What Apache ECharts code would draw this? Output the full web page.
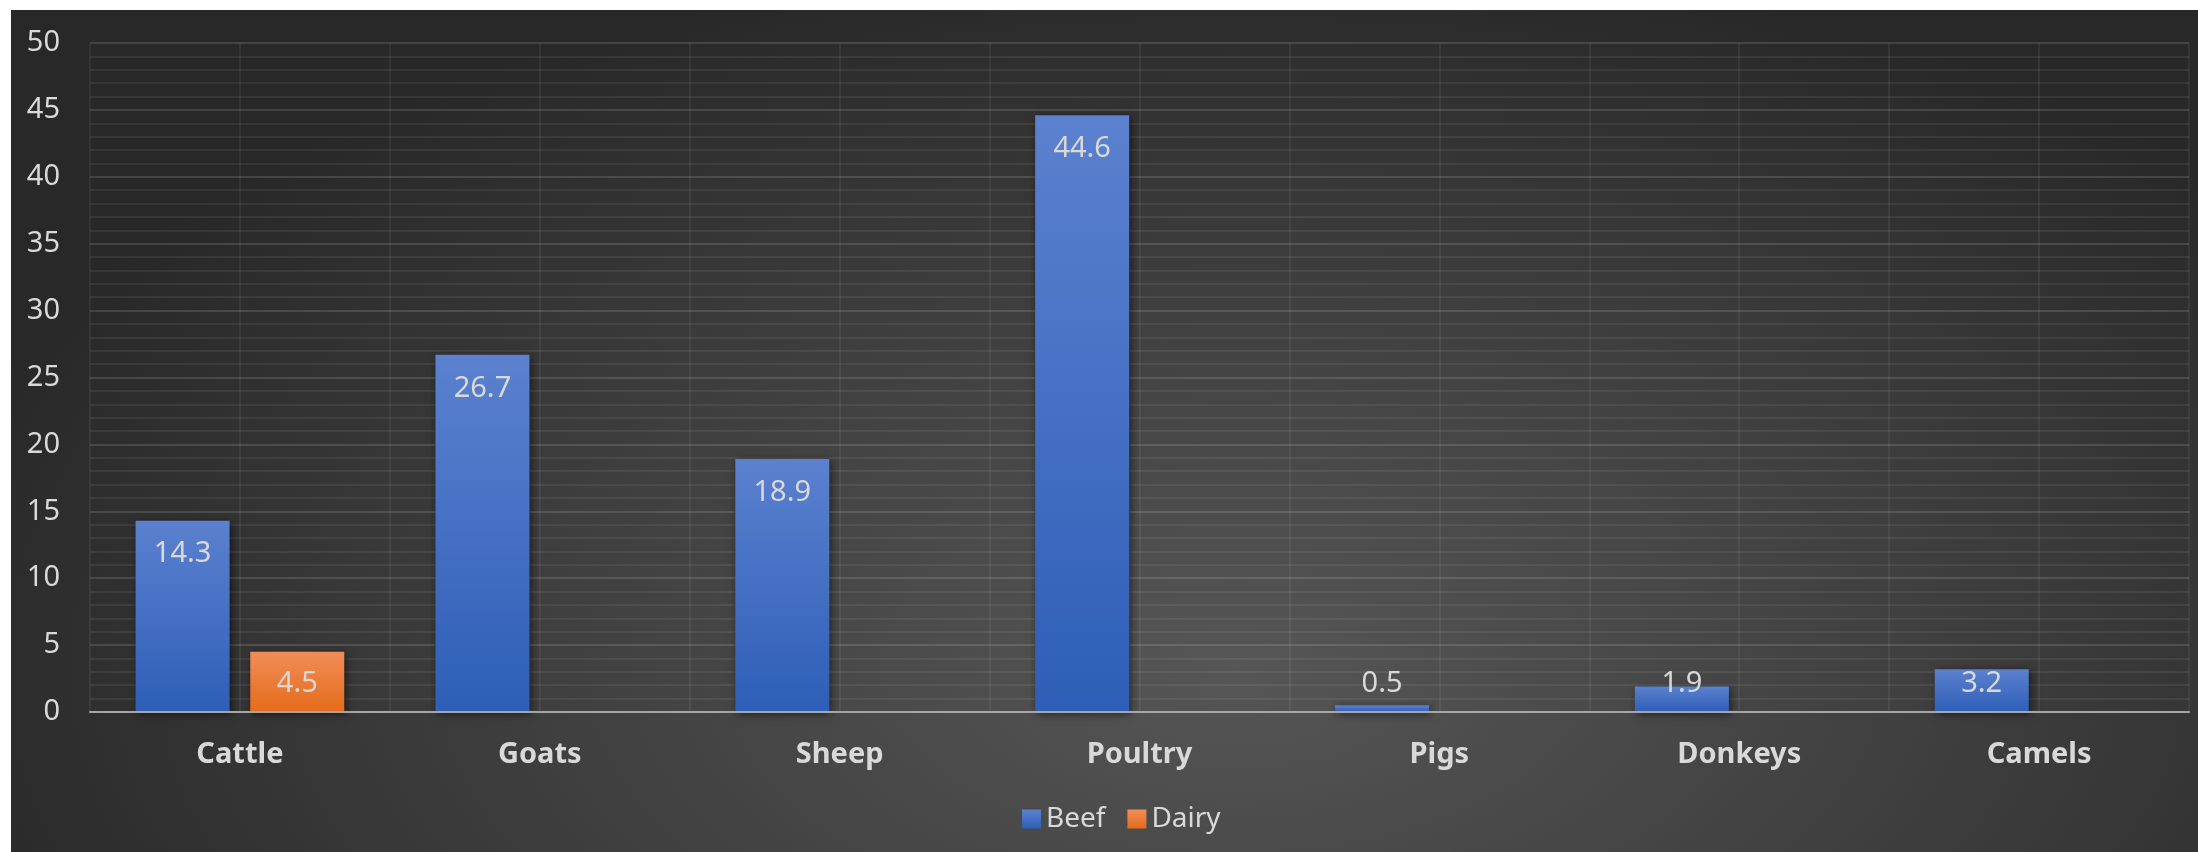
<!DOCTYPE html>
<html>
<head>
<meta charset="utf-8">
<script src="https://cdn.jsdelivr.net/npm/echarts@6/dist/echarts.min.js"></script>
<style>
  html, body { margin: 0; padding: 0; background: #ffffff; }
  #chart {
    position: absolute; left: 11px; top: 10px; width: 2187px; height: 842px;
    background: radial-gradient(ellipse 62% 85% at 56% 78%, #565656 0%, #424242 45%, #282828 100%);
  }
</style>
</head>
<body>
<div id="chart"></div>
<script>
const categories = ['Cattle', 'Goats', 'Sheep', 'Poultry', 'Pigs', 'Donkeys', 'Camels'];
const beefValues = [14.3, 26.7, 18.9, 44.6, 0.5, 1.9, 3.2];
const dairyValues = [4.5, null, null, null, null, null, null];
const yTicks = { min: 0, max: 50, interval: 5 };

const chart = echarts.init(document.getElementById('chart'), null, { renderer: 'canvas' });

const labelColor = '#d9d9d9';
const fontFamily = '"Noto Sans", "Open Sans", sans-serif';

function withLabels(values) {
  return values.map(v => {
    if (v === null) return { value: null };
    if (v < 4.7) {
      return { value: v, label: { position: 'insideBottom', distance: 14 } };
    }
    return { value: v };
  });
}

function grad(top, bottom) {
  return new echarts.graphic.LinearGradient(0, 0, 0, 1, [
    { offset: 0, color: top },
    { offset: 1, color: bottom }
  ]);
}

const barShadow = {
  shadowBlur: 8,
  shadowColor: 'rgba(0,0,0,0.55)',
  shadowOffsetX: 2,
  shadowOffsetY: 2
};

chart.setOption({
  backgroundColor: 'transparent',
  textStyle: { fontFamily: fontFamily },
  animation: false,
  grid: { left: 79, right: 9, top: 33, bottom: 140 },
  legend: {
    left: 1006,
    top: 790,
    itemWidth: 19,
    itemHeight: 19,
    itemGap: 22,
    icon: 'rect',
    textStyle: { color: labelColor, fontSize: 28, fontFamily: fontFamily },
    data: ['Beef', 'Dairy']
  },
  xAxis: [
    {
      type: 'category',
      data: categories,
      boundaryGap: true,
      axisLine: { show: true, lineStyle: { color: '#a6a6a6', width: 2 } },
      axisTick: { show: false },
      axisLabel: {
        color: labelColor, fontSize: 29, fontWeight: 'bold', margin: 28, fontFamily: fontFamily
      },
      splitLine: { show: false },
      z: 5
    },
    {
      type: 'value',
      min: 0, max: categories.length * 2, interval: 1,
      position: 'bottom',
      axisLine: { show: false },
      axisTick: { show: false },
      axisLabel: { show: false },
      splitLine: { show: true, lineStyle: { color: 'rgba(255,255,255,0.08)', width: 1.5 } }
    }
  ],
  yAxis: {
    type: 'value',
    min: yTicks.min,
    max: yTicks.max,
    interval: yTicks.interval,
    axisLine: { show: false },
    axisTick: { show: false },
    axisLabel: { color: labelColor, fontSize: 29, margin: 30, fontFamily: fontFamily },
    splitLine: { show: true, lineStyle: { color: 'rgba(255,255,255,0.13)', width: 2 } },
    minorTick: { show: false, splitNumber: 5 },
    minorSplitLine: { show: true, lineStyle: { color: 'rgba(255,255,255,0.065)', width: 2 } }
  },
  series: [
    {
      name: 'Beef',
      type: 'bar',
      xAxisIndex: 0,
      data: withLabels(beefValues),
      barWidth: 94,
      barGap: '22%',
      itemStyle: Object.assign({ color: grad('#5b81cf', '#2e5eb7') }, barShadow),
      label: {
        show: true, position: 'insideTop', distance: 19,
        color: labelColor, fontSize: 29, fontFamily: fontFamily
      }
    },
    {
      name: 'Dairy',
      type: 'bar',
      xAxisIndex: 0,
      data: withLabels(dairyValues),
      barWidth: 94,
      barGap: '22%',
      itemStyle: Object.assign({ color: grad('#f18d58', '#e56b1b') }, barShadow),
      label: {
        show: true, position: 'insideTop', distance: 19,
        color: labelColor, fontSize: 29, fontFamily: fontFamily
      }
    }
  ]
});
</script>
</body>
</html>
